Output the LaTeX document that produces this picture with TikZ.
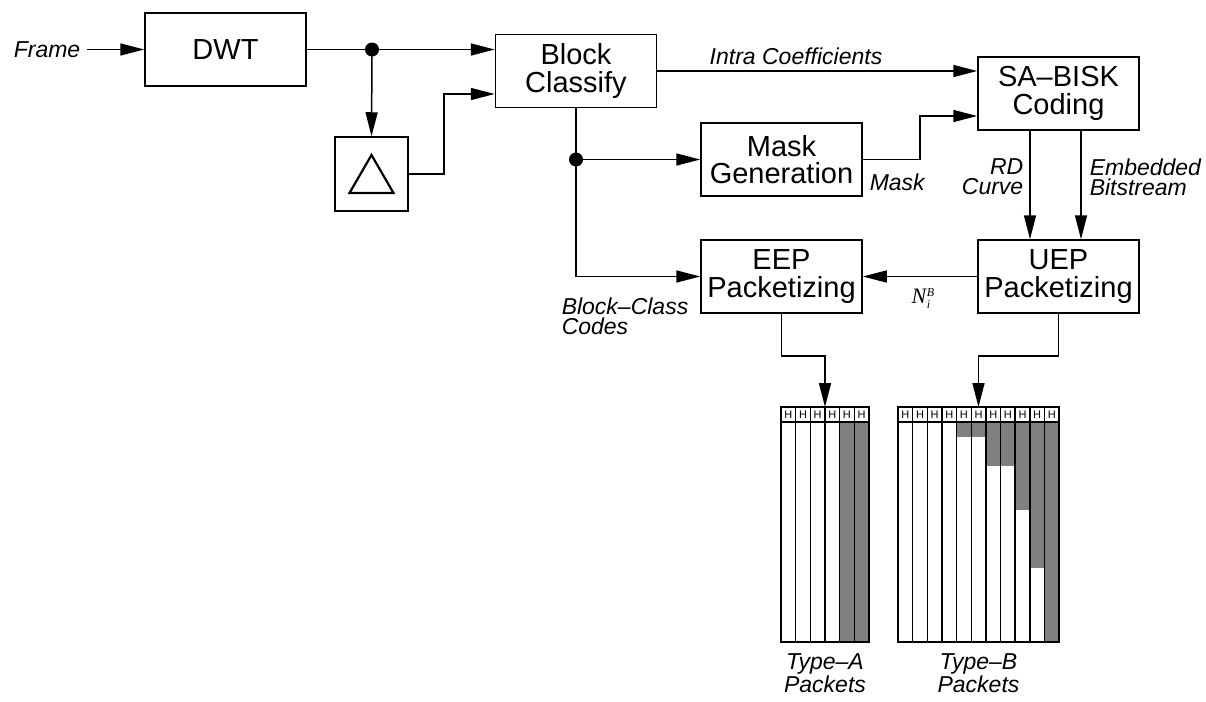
\documentclass[tikz,border=0pt]{standalone}
\usepackage{fontspec}
\setmainfont{Liberation Sans}
\newfontfamily\serifrm{Liberation Serif}
\usetikzlibrary{arrows.meta,calc}
\definecolor{pkgray}{RGB}{128,128,128}
\begin{document}
\begin{tikzpicture}[x=0.5pt,y=-0.5pt, line width=0.75pt,
 box/.style={draw, minimum width=80.5pt, minimum height=36.5pt, inner sep=0pt, align=center, font=\fontsize{14.5}{13.8}\selectfont},
 lbl/.style={font=\fontsize{11.5}{10}\selectfont\itshape, inner sep=0pt},
 arr/.style={-{Triangle[length=12pt,width=6pt]}},
 dot/.style={circle, fill, inner sep=0pt, minimum size=7pt},
 hd/.style={font=\fontsize{5.5}{5.5}\selectfont, inner sep=0pt},
 pkt/.style={inner sep=0pt, outer sep=0pt, anchor=north west, minimum height=117.5pt}]
\useasboundingbox (0,0) rectangle (1206,702);

% blocks
\node[box] (dwt) at (225.5,49.5) {DWT};
\node[box, minimum width=36.5pt, minimum height=37pt] (tri) at (371.5,174) {};
\node[box] (bc) at (576,71) {Block\\Classify};
\node[box] (sa) at (1058.5,93.5) {SA–BISK\\Coding};
\node[box] (mask) at (781.5,159.5) {Mask\\Generation};
\node[box] (eep) at (781.5,276.5) {EEP\\Packetizing};
\node[box] (uep) at (1058.5,276.5) {UEP\\Packetizing};

% triangle symbol
\draw[line width=1.1pt] ($(tri.center)+(-22,19)$) -- ($(tri.center)+(22,19)$) -- ($(tri.center)+(0,-19)$) -- cycle;

% junctions
\node[dot] (j1) at (372,49.5) {};
\node[dot] (j2) at (576,159.5) {};
\coordinate (c1) at (444,94);
\coordinate (c2) at (920,116);

% labels
\node[lbl, anchor=east] (frame) at (81,49.5) {Frame};
\node[lbl] (intra) at (796,56) {Intra Coefficients};
\node[lbl, anchor=west] (masklbl) at (869,182) {Mask};
\node[lbl, anchor=east, align=right] (rd) at (1024,177) {RD\\Curve};
\node[lbl, anchor=west, align=left] (emb) at (1089,177) {Embedded\\Bitstream};
\node[lbl, anchor=west, align=left] (bcc) at (561,316) {Block–Class\\Codes};
\node[inner sep=0pt, font=\fontsize{11}{11}\serifrm\itshape] (nib) at (923,299) {N\kern0.3pt\raisebox{0pt}{\makebox[0pt][l]{\raisebox{-2.5pt}{\fontsize{6}{6}\selectfont i}}\raisebox{3.5pt}{\fontsize{6}{6}\selectfont B}}};

% connectors
\draw[arr] (frame.east) ++(6,0) -- (dwt.west);
\draw (dwt.east) -- (j1.center);
\draw[arr] (j1.center) -- (j1.center -| bc.west);
\draw[arr] (j1.center) -- (tri.north);
\draw[arr] (tri.east) -| (c1) -- (c1 -| bc.west);
\draw[arr] (bc.east) -- (bc.east -| sa.west);
\draw (bc.south) -- (j2.center);
\draw[arr] (j2.center) -- (mask.west);
\draw[arr] (j2.center) |- (eep.west);
\draw[arr] (mask.east) -| (c2) -- (c2 -| sa.west);
\draw[arr] ($(sa.south)+(-28.5,0)$) -- ($(uep.north)+(-28.5,0)$);
\draw[arr] ($(sa.south)+(22.5,0)$) -- ($(uep.north)+(22.5,0)$);
\draw[arr] (uep.west) -- (eep.east);

% packets A
\node[pkt, minimum width=44pt] (pa) at (781,407) {};
\fill[pkgray] (781+4*14.65,422) rectangle (781+6*14.65,642);
\foreach \i in {0,...,5} {
  \draw (781+\i*14.65,407) rectangle ++(14.65,235);
  \node[hd] at (781+\i*14.65+7.33,414.5) {H};
}
\draw (781,422) -- (781+6*14.65,422);

% packets B
\node[pkt, minimum width=80.5pt] (pb) at (898,407) {};
\foreach \i/\b in {4/437,5/437,6/466,7/466,8/510,9/568,10/642}
  \fill[pkgray] (898+\i*14.65,422) rectangle (898+\i*14.65+14.65,\b);
\foreach \i in {0,...,10} {
  \draw (898+\i*14.65,407) rectangle ++(14.65,235);
  \node[hd] at (898+\i*14.65+7.33,414.5) {H};
}
\draw (898,422) -- (898+11*14.65,422);

\draw[arr] (eep.south) -- ++(0,42) -| (pa.north);
\draw[arr] (uep.south) -- ++(0,42) -| (pb.north);

\node[lbl, align=center] (ta) at (825,673) {Type–A\\Packets};
\node[lbl, align=center] (tb) at (978.5,673) {Type–B\\Packets};
\end{tikzpicture}
\end{document}
